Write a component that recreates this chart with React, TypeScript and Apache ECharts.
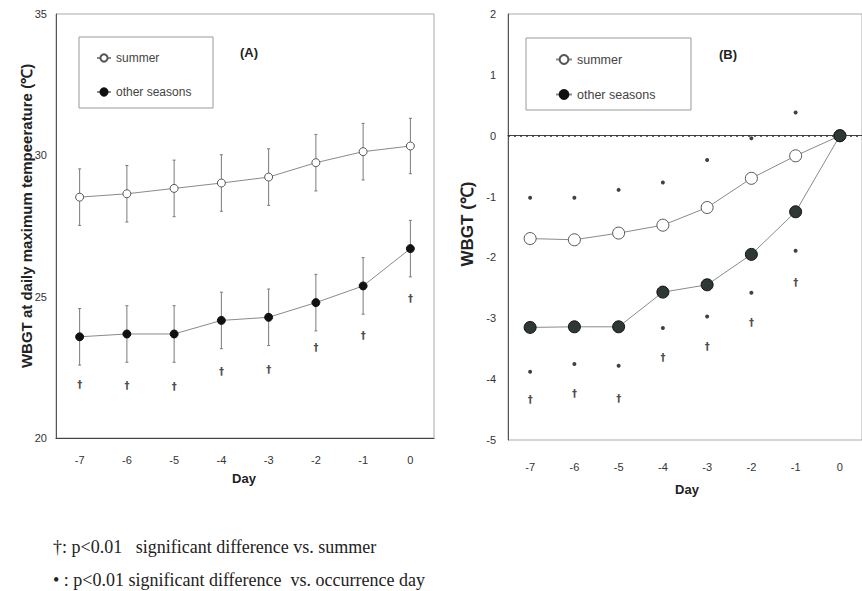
import React, { useEffect, useRef } from "react";
import * as echarts from "echarts";

const days = ["-7", "-6", "-5", "-4", "-3", "-2", "-1", "0"];

// Panel A: WBGT at daily maximum temperature
const summerA = [28.52, 28.64, 28.83, 29.02, 29.23, 29.74, 30.13, 30.33];
const summerASD = [1.0, 1.0, 1.0, 1.0, 1.0, 1.0, 1.0, 0.98];
const otherA = [23.58, 23.68, 23.68, 24.16, 24.27, 24.79, 25.38, 26.7];
const otherASD = [1.0, 1.0, 1.0, 1.0, 1.0, 1.0, 1.0, 1.0];
const daggerA = [21.88, 21.85, 21.82, 22.37, 22.44, 23.2, 23.61, 24.92];

// Panel B: WBGT difference vs occurrence day
const summerB = [-1.69, -1.71, -1.6, -1.47, -1.18, -0.7, -0.33, 0];
const otherB = [-3.15, -3.14, -3.14, -2.57, -2.45, -1.95, -1.25, 0];
const dotSummerB = [-1.02, -1.02, -0.89, -0.77, -0.4, -0.04, 0.38];
const dotOtherB = [-3.88, -3.75, -3.78, -3.16, -2.97, -2.58, -1.89];
const daggerB = [-4.33, -4.23, -4.31, -3.65, -3.47, -3.07, -2.41];

const yTicksA = [20, 25, 30, 35];
const yTicksB = [-5, -4, -3, -2, -1, 0, 1, 2];

const SANS = "'Liberation Sans Narrow', 'Liberation Sans', Arial, sans-serif";
const SANS_W = "'Liberation Sans', Arial, sans-serif";
const SERIF = "'Liberation Serif', 'DejaVu Serif', serif";

function errorBars(values: number[], sds: number[], xi: number, yi: number) {
  return {
    type: "custom",
    xAxisIndex: xi,
    yAxisIndex: yi,
    z: 1,
    silent: true,
    data: values.map((v, i) => [i, v - sds[i], v + sds[i]]),
    encode: { x: 0, y: [1, 2] },
    renderItem: (params: any, api: any) => {
      const x = api.value(0);
      const lo = api.coord([x, api.value(1)]);
      const hi = api.coord([x, api.value(2)]);
      const st = { stroke: "#7a7a7a", lineWidth: 1 };
      return {
        type: "group",
        children: [
          { type: "line", shape: { x1: lo[0], y1: lo[1], x2: hi[0], y2: hi[1] }, style: st },
          { type: "line", shape: { x1: hi[0] - 1.5, y1: hi[1], x2: hi[0] + 1.5, y2: hi[1] }, style: st },
          { type: "line", shape: { x1: lo[0] - 1.5, y1: lo[1], x2: lo[0] + 1.5, y2: lo[1] }, style: st },
        ],
      };
    },
  };
}

function markText(values: number[], xi: number, yi: number, ch: string) {
  return {
    type: "scatter",
    xAxisIndex: xi,
    yAxisIndex: yi,
    symbol: "circle",
    symbolSize: 1,
    itemStyle: { color: "rgba(0,0,0,0)" },
    silent: true,
    z: 3,
    data: values,
    label: {
      show: true,
      position: "inside",
      formatter: () => ch,
      fontFamily: "'DejaVu Sans', sans-serif",
      fontSize: 10,
      fontWeight: "bold",
      color: "#1a1a1a",
    },
  };
}

function dots(values: number[], xi: number, yi: number) {
  return {
    type: "scatter",
    xAxisIndex: xi,
    yAxisIndex: yi,
    symbol: "circle",
    symbolSize: 4,
    itemStyle: { color: "#111" },
    silent: true,
    z: 3,
    data: values,
  };
}

export default function App() {
  const ref = useRef<HTMLDivElement>(null);
  useEffect(() => {
    if (!ref.current) return;
    const chart = echarts.init(ref.current, undefined, { renderer: "svg" });
    const axisLabelY = { fontFamily: SANS, fontSize: 11, color: "#333" };
    const option: any = {
      animation: false,
      backgroundColor: "#ffffff",
      grid: [
        { left: 56, top: 14, width: 378, height: 424, show: true, borderColor: "#aaa", borderWidth: 1 },
        { left: 508, top: 14, width: 363, height: 426, show: true, borderColor: "#aaa", borderWidth: 1 },
      ],
      xAxis: [
        {
          type: "category",
          gridIndex: 0,
          data: days,
          boundaryGap: true,
          axisTick: { show: false },
          axisLine: { lineStyle: { color: "#444", width: 1.2 } },
          axisLabel: { margin: 16, fontFamily: SANS, fontSize: 11, color: "#333" },
        },
        {
          type: "category",
          gridIndex: 1,
          data: days,
          boundaryGap: true,
          axisTick: { show: false },
          axisLine: { lineStyle: { color: "#444", width: 1.2 } },
          axisLabel: { margin: 21, fontFamily: SANS, fontSize: 11, color: "#333" },
        },
      ],
      yAxis: [
        {
          type: "value",
          gridIndex: 0,
          min: yTicksA[0],
          max: yTicksA[yTicksA.length - 1],
          interval: 5,
          splitLine: { show: false },
          axisTick: { show: false },
          axisLine: { show: true, lineStyle: { color: "#555", width: 1 } },
          axisLabel: { ...axisLabelY, margin: 9 },
        },
        {
          type: "value",
          gridIndex: 1,
          min: yTicksB[0],
          max: yTicksB[yTicksB.length - 1],
          interval: 1,
          splitLine: { show: false },
          axisTick: { show: false },
          axisLine: { show: true, lineStyle: { color: "#555", width: 1 } },
          axisLabel: { ...axisLabelY, margin: 12 },
        },
      ],
      legend: [
        {
          data: ["summer", "other seasons"],
          orient: "vertical",
          left: 96,
          top: 52,
          padding: 0,
          itemWidth: 14,
          itemHeight: 9,
          itemGap: 22,
          selectedMode: false,
          textStyle: { fontFamily: SANS_W, fontSize: 12, color: "#444" },
        },
        {
          data: ["summer", "other seasons"],
          orient: "vertical",
          left: 555,
          top: 53,
          padding: 0,
          itemWidth: 16,
          itemHeight: 11,
          itemGap: 22,
          selectedMode: false,
          textStyle: { fontFamily: SANS_W, fontSize: 12.5, color: "#444" },
        },
      ],
      series: [
        errorBars(summerA, summerASD, 0, 0),
        errorBars(otherA, otherASD, 0, 0),
        {
          name: "summer",
          type: "line",
          xAxisIndex: 0,
          yAxisIndex: 0,
          data: summerA,
          z: 2,
          symbol: "circle",
          symbolSize: 8,
          lineStyle: { color: "#8a8a8a", width: 1 },
          itemStyle: { color: "#ffffff", borderColor: "#555", borderWidth: 1 },
        },
        {
          name: "other seasons",
          type: "line",
          xAxisIndex: 0,
          yAxisIndex: 0,
          data: otherA,
          z: 2,
          symbol: "circle",
          symbolSize: 8,
          lineStyle: { color: "#8a8a8a", width: 1 },
          itemStyle: { color: "#111", borderColor: "#111", borderWidth: 1 },
        },
        markText(daggerA, 0, 0, "†"),
        {
          name: "summer",
          type: "line",
          xAxisIndex: 1,
          yAxisIndex: 1,
          data: summerB,
          z: 2,
          symbol: "circle",
          symbolSize: 12,
          lineStyle: { color: "#8a8a8a", width: 1 },
          itemStyle: { color: "#ffffff", borderColor: "#555", borderWidth: 1 },
          markLine: {
            silent: true,
            symbol: "none",
            label: { show: false },
            lineStyle: { color: "#333", type: [2, 4], width: 1.5 },
            data: [{ yAxis: 0 }],
          },
        },
        {
          name: "other seasons",
          type: "line",
          xAxisIndex: 1,
          yAxisIndex: 1,
          data: otherB,
          z: 2,
          symbol: "circle",
          symbolSize: 12,
          lineStyle: { color: "#8a8a8a", width: 1 },
          itemStyle: { color: "#2e3834", borderColor: "#111", borderWidth: 1 },
        },
        dots(dotSummerB, 1, 1),
        dots(dotOtherB, 1, 1),
        markText(daggerB, 1, 1, "†"),
      ],
      graphic: [
        { type: "rect", shape: { x: 79, y: 37, width: 134, height: 71 }, style: { fill: "none", stroke: "#999", lineWidth: 1 } },
        { type: "rect", shape: { x: 526, y: 38, width: 165, height: 72 }, style: { fill: "none", stroke: "#999", lineWidth: 1 } },
        { type: "text", x: 249, y: 52, style: { text: "(A)", fontFamily: SANS_W, fontWeight: "bold", fontSize: 13, fill: "#222", align: "center", verticalAlign: "middle" } },
        { type: "text", x: 728, y: 54, style: { text: "(B)", fontFamily: SANS_W, fontWeight: "bold", fontSize: 13, fill: "#222", align: "center", verticalAlign: "middle" } },
        {
          type: "text",
          x: 26,
          y: 216,
          rotation: Math.PI / 2,
          style: { text: "WBGT at daily maximum tempeerature (℃)", fontFamily: SANS_W, fontWeight: "bold", fontSize: 15, fill: "#222", align: "center", verticalAlign: "middle" },
        },
        {
          type: "text",
          x: 467,
          y: 224,
          rotation: Math.PI / 2,
          style: { text: "WBGT (℃)", fontFamily: SANS_W, fontWeight: "bold", fontSize: 17, fill: "#222", align: "center", verticalAlign: "middle" },
        },
        { type: "text", x: 244, y: 478, style: { text: "Day", fontFamily: SANS, fontWeight: "bold", fontSize: 13, fill: "#222", align: "center", verticalAlign: "middle" } },
        { type: "text", x: 687, y: 489, style: { text: "Day", fontFamily: SANS, fontWeight: "bold", fontSize: 13, fill: "#222", align: "center", verticalAlign: "middle" } },
        { type: "text", x: 53, y: 547, style: { text: "†: p<0.01\u00a0\u00a0\u00a0significant difference vs. summer", fontFamily: SERIF, fontSize: 18, fill: "#222", verticalAlign: "middle" } },
        { type: "text", x: 53, y: 580, style: { text: "• : p<0.01 significant difference\u00a0\u00a0vs. occurrence day", fontFamily: SERIF, fontSize: 18, fill: "#222", verticalAlign: "middle" } },
      ],
    };
    chart.setOption(option);
    return () => chart.dispose();
  }, []);
  return (
    <div
      ref={ref}
      style={{ position: "fixed", left: 0, top: 0, width: 862, height: 591, background: "#fff" }}
    />
  );
}
